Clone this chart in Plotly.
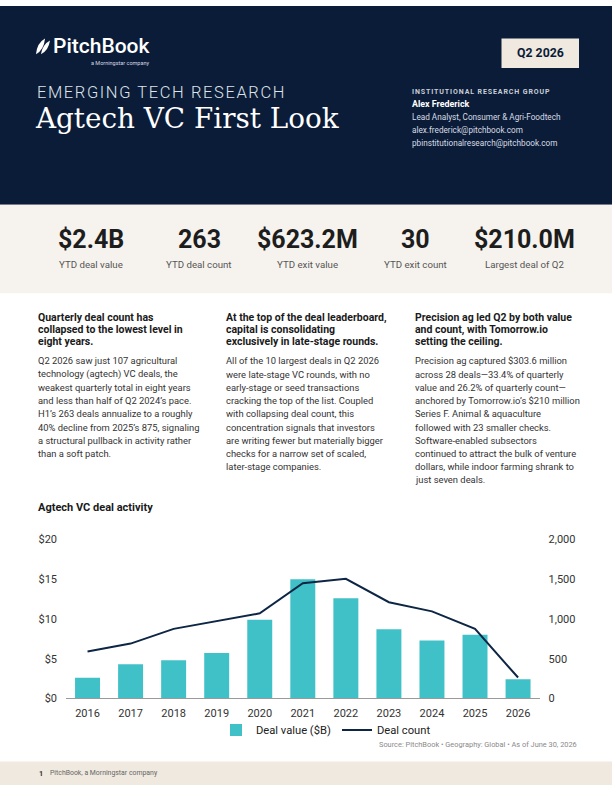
import plotly.graph_objects as go

# ---------------- data ----------------
years = ["2016", "2017", "2018", "2019", "2020", "2021", "2022", "2023", "2024", "2025", "2026"]
deal_value = [2.6, 4.3, 4.8, 5.7, 9.9, 15.0, 12.6, 8.7, 7.3, 8.0, 2.4]
deal_count = [590, 690, 875, 970, 1070, 1450, 1505, 1210, 1095, 875, 263]

kpi_values = ["$2.4B", "263", "$623.2M", "30", "$210.0M"]
kpi_labels = ["YTD deal value", "YTD deal count", "YTD exit value", "YTD exit count", "Largest deal of Q2"]

left_ticks = [0, 5, 10, 15, 20]
right_ticks = [0, 500, 1000, 1500, 2000]

col_headings = [
    ["Quarterly deal count has", "collapsed to the lowest level in", "eight years."],
    ["At the top of the deal leaderboard,", "capital is consolidating", "exclusively in late-stage rounds."],
    ["Precision ag led Q2 by both value", "and count, with Tomorrow.io", "setting the ceiling."],
]
col_bodies = [
    ["Q2 2026 saw just 107 agricultural",
     "technology (agtech) VC deals, the",
     "weakest quarterly total in eight years",
     "and less than half of Q2 2024\u2019s pace.",
     "H1\u2019s 263 deals annualize to a roughly",
     "40% decline from 2025\u2019s 875, signaling",
     "a structural pullback in activity rather",
     "than a soft patch."],
    ["All of the 10 largest deals in Q2 2026",
     "were late-stage VC rounds, with no",
     "early-stage or seed transactions",
     "cracking the top of the list. Coupled",
     "with collapsing deal count, this",
     "concentration signals that investors",
     "are writing fewer but materially bigger",
     "checks for a narrow set of scaled,",
     "later-stage companies."],
    ["Precision ag captured $303.6 million",
     "across 28 deals\u201433.4% of quarterly",
     "value and 26.2% of quarterly count\u2014",
     "anchored by Tomorrow.io\u2019s $210 million",
     "Series F. Animal & aquaculture",
     "followed with 23 smaller checks.",
     "Software-enabled subsectors",
     "continued to attract the bulk of venture",
     "dollars, while indoor farming shrank to",
     "just seven deals."],
]

# ---------------- styling ----------------
W, H = 612, 792
NAVY = "#0B1C38"
TEAL = "#40C1C7"
LINE_NAVY = "#0E2646"
KPI_BG = "#F6F3EE"
FOOT_BG = "#F0E9DF"
FONT = "Roboto"


def X(px):
    return px / W


def Y(py):
    return 1 - py / H


annotations = []
shapes = []


def text(x, y, s, size, color="#222", weight=400, anchor="left", family=FONT):
    annotations.append(dict(
        x=X(x), y=Y(y), xref="paper", yref="paper", text=s, showarrow=False,
        xanchor=anchor, yanchor="middle", align=anchor if anchor != "center" else "center",
        font=dict(family=family, size=size, color=color, weight=weight)))


def rect(x0, y0, x1, y1, color):
    shapes.append(dict(type="rect", xref="paper", yref="paper",
                       x0=X(x0), x1=X(x1), y0=Y(y1), y1=Y(y0),
                       fillcolor=color, line=dict(width=0), layer="below"))


# bands
rect(0, 0, W, 202, NAVY)
rect(0, 202, W, 292, KPI_BG)
rect(0, 768, W, H, FOOT_BG)

# logo
def leaf(x0, y0, x1, y1, bulge):
    mx, my = (x0 + x1) / 2, (y0 + y1) / 2
    return (f"M {X(x0)},{Y(y0)} Q {X(mx - bulge)},{Y(my - bulge)} {X(x1)},{Y(y1)} "
            f"Q {X(mx + bulge)},{Y(my + bulge)} {X(x0)},{Y(y0)} Z")


shapes.append(dict(type="path", xref="paper", yref="paper", path=leaf(36, 49, 45, 33, 3.5),
                   fillcolor="white", line=dict(width=0)))
shapes.append(dict(type="path", xref="paper", yref="paper", path=leaf(41, 49, 50, 35, 3),
                   fillcolor="white", line=dict(width=0)))
text(51, 41, "PitchBook", 21, "white", 500)
text(151, 57.5, "a Morningstar company", 5.5, "#d5d9e0", 400, anchor="right")

# period box
rect(501.5, 33, 579, 63, FOOT_BG)
text(540, 48, "Q2 2026", 12.3, NAVY, 700, anchor="center")

# header titles
text(35, 87.5, '<span style="letter-spacing:1.6px">EMERGING TECH RESEARCH</span>', 16.5, "#dfe3ea", 300)
text(33, 114, "Agtech VC First Look", 27.8, "white", 400, family="DejaVu Serif")

text(410, 87.7, '<span style="letter-spacing:0.9px">INSTITUTIONAL RESEARCH GROUP</span>', 7.0, "#c9ced8", 700)
text(410, 100, "Alex Frederick", 8.9, "white", 700)
text(410, 113.3, "Lead Analyst, Consumer & Agri-Foodtech", 8.2, "#d8dce4")
text(410, 126.5, "alex.frederick@pitchbook.com", 8.2, "#d8dce4")
text(410, 139, "pbinstitutionalresearch@pitchbook.com", 8.2, "#d8dce4")

# KPI strip
kpi_centers = [90.5, 199, 307.5, 415, 524]
for cx, v, lab in zip(kpi_centers, kpi_values, kpi_labels):
    text(cx, 237.5, v, 25, "#1d1d1d", 700, anchor="center")
    text(cx, 263, lab, 9.7, "#555", 400, anchor="center")

# text columns
col_x = [36, 224, 413]
for cx, heads, body in zip(col_x, col_headings, col_bodies):
    for i, ln in enumerate(heads):
        text(cx, 317 + i * 12.3, ln, 10.5, "#1a1a1a", 700)
    for i, ln in enumerate(body):
        text(cx, 360.8 + i * 13.45, ln, 9.4, "#333")

# chart title, source, footer
text(36, 510, "Agtech VC deal activity", 11, "#1a1a1a", 700)
text(578.5, 750.7, "Source: PitchBook \u2022 Geography: Global \u2022 As of June 30, 2026", 7.4, "#8a8a8a", 400, anchor="right")
text(36.5, 780.3, "1", 7.2, "#333", 700)
text(47.5, 780.3, "PitchBook, a Morningstar company", 6.9, "#666")

# ---------------- chart ----------------
fig = go.Figure()
fig.add_trace(go.Bar(x=years, y=deal_value, name="Deal value ($B)",
                     marker=dict(color=TEAL, line=dict(width=0)), yaxis="y"))
fig.add_trace(go.Scatter(x=years, y=deal_count, name="Deal count", mode="lines",
                         line=dict(color=LINE_NAVY, width=2), yaxis="y2"))

tick_font = dict(family=FONT, size=11, color="#333")
fig.update_layout(
    width=W, height=H,
    margin=dict(l=0, r=0, t=0, b=0),
    paper_bgcolor="white", plot_bgcolor="rgba(0,0,0,0)",
    bargap=0.42,
    showlegend=True,
    legend=dict(orientation="h", x=X(216), xanchor="left", y=Y(736), yanchor="middle",
                font=dict(family=FONT, size=11.2, color="#222"), bgcolor="rgba(0,0,0,0)",
                itemwidth=30, tracegroupgap=0, entrywidth=76, entrywidthmode="pixels"),
    xaxis=dict(domain=[X(66), X(539.6)], type="category", showgrid=False,
               showline=True, linecolor="#9a9a9a", linewidth=1, ticks="",
               tickfont=tick_font, ticklabelstandoff=4, fixedrange=True),
    yaxis=dict(domain=[Y(704), Y(542.3)], range=[0, 20], tickvals=left_ticks,
               ticktext=[f"${t}" for t in left_ticks], showgrid=False, zeroline=False,
               showline=False, ticks="", tickfont=tick_font, ticklabelstandoff=8),
    yaxis2=dict(overlaying="y", side="right", range=[0, 2000], tickvals=right_ticks,
                tickformat=",", showgrid=False, zeroline=False, showline=False, ticks="",
                tickfont=tick_font, ticklabelstandoff=8),
    annotations=annotations,
    shapes=shapes,
)

page_css = ("margin:0;padding:0;overflow:hidden;width:612px;height:792px;")
fig.write_html(
    "out.html",
    config={"displayModeBar": False},
    post_script=("document.documentElement.style.cssText='" + page_css + "';"
                 "document.body.style.cssText='" + page_css + "';"),
)
